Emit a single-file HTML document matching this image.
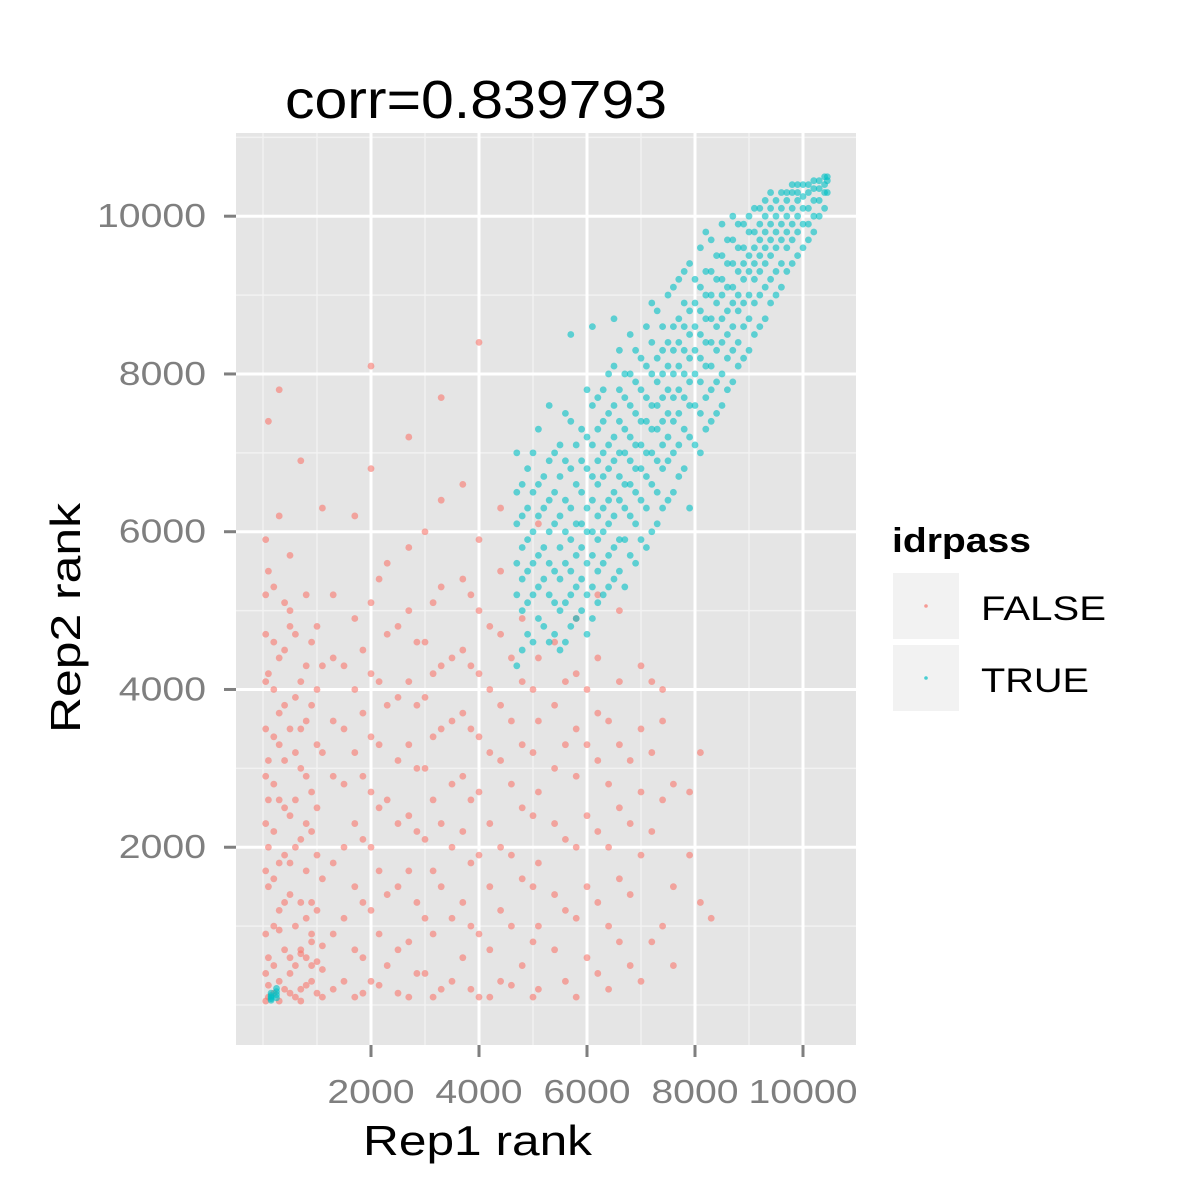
<!DOCTYPE html>
<html><head><meta charset="utf-8"><style>
html,body{margin:0;padding:0;background:#fff;}
svg{display:block;font-family:"Liberation Sans",Arial,sans-serif;}
</style></head><body>
<svg id="chart" width="1200" height="1200" viewBox="0 0 1200 1200">
<rect x="0" y="0" width="1200" height="1200" fill="#fff"/>
<text x="285" y="118" font-size="54" textLength="382" lengthAdjust="spacingAndGlyphs" fill="#000">corr=0.839793</text>
<rect x="236" y="133" width="620" height="912" fill="#e5e5e5"/>
<g id="grid"></g>
<g id="pts"></g>
<g id="axes"></g>
<text x="363" y="1155" font-size="42" textLength="229" lengthAdjust="spacingAndGlyphs">Rep1 rank</text>
<text transform="translate(80,733) rotate(-90)" font-size="42" textLength="230" lengthAdjust="spacingAndGlyphs">Rep2 rank</text>
<g>
<text x="892" y="552" font-size="34" font-weight="bold" textLength="139" lengthAdjust="spacingAndGlyphs">idrpass</text>
<g>
<rect x="893" y="573" width="66" height="66" fill="#f2f2f2"/>
<circle cx="926" cy="606" r="1.8" fill="#F8766D" opacity="0.7"/>
<text x="981" y="620" font-size="34" textLength="125" lengthAdjust="spacingAndGlyphs">FALSE</text></g>
<g>
<rect x="893" y="645" width="66" height="66" fill="#f2f2f2"/>
<circle cx="926" cy="678" r="1.8" fill="#00BFC4" opacity="0.7"/>
<text x="981" y="692" font-size="34" textLength="108" lengthAdjust="spacingAndGlyphs">TRUE</text></g>
</g>
</svg>
<script>
const xTicks=[2000,4000,6000,8000,10000];
const yTicks=[2000,4000,6000,8000,10000];
const xMinor=[0,1000,3000,5000,7000,9000,11000];
const yMinor=[0,1000,3000,5000,7000,9000,11000];
const falseColX=[100,300,500,700,900,1100,1300,1700,2000,2300,2700,3000,3300,3700,4000,4400,4800,5100,5400,5800,6200,6600,7000,7400,7900,8300,
50,200,400,600,800,1000,1500,1850,2150,2500,2850,3150,3500,3850,4200,4600,5000,5600,6000,6400,6800,7200,7600,8100];
const falseColY=[
[100,600,1500,2000,3100,4200,5500,7400,250,2600],
[300,50,1200,2600,3300,3700,6200,7800,950,1800,4400],
[400,150,1400,2400,5000,5700,600,3500,1800,4800],
[200,650,700,2100,3000,3500,4100,6900,1300,50],
[500,300,800,1300,2700,3800,4600,900,2200],
[100,750,450,6300,1600,3200,4300],
[200,900,1800,2900,3600,4400,5200],
[100,700,1500,2300,3200,4000,4900,6200],
[300,1200,2000,2700,3400,4200,5100,6800,8100],
[500,1400,2600,3800,4700,5600],
[100,800,1700,2400,3300,4100,5000,5800,7200],
[400,1100,2100,3000,3900,4600,6000],
[200,1500,2300,3500,4300,5300,6400,7700],
[600,1300,2200,2900,3700,4500,5400,6600],
[100,900,1900,2700,3400,4200,5000,5900,8400],
[300,1200,2000,3100,3800,4700,5500,6300],
[500,1600,2500,3300,4100,4900],
[200,1000,1800,2700,3600,4400,6100],
[700,1400,2300,3000,3800,4600],
[100,1100,2000,2900,3500,4200,4900],
[400,1300,2200,3100,3700,4400,5200],
[800,1600,2500,3300,4100,5000],
[300,1900,2700,3500,4300],
[1000,2600,3600,4000],
[1900,2700],
[1100],
[50,400,900,1700,2300,2900,3500,4100,4700,5200,5900],
[150,500,1000,1600,2200,2800,3400,4000,4600,5300],
[200,700,1300,1900,2500,3100,3800,4500,5100],
[100,500,1000,2000,2600,3200,3900,4700],
[250,600,1100,1700,2300,2900,3600,4300,5200],
[150,550,1200,1900,2500,3300,4000,4800],
[300,1100,2000,2800,3500,4300],
[150,600,1300,2100,2900,3700,4500],
[250,900,1700,2500,3300,4100,5400],
[150,700,1500,2300,3100,3900,4800],
[400,1300,2200,3000,3800,4600],
[100,900,1700,2600,3400,4200,5100],
[300,1100,2000,2800,3600,4400],
[200,1000,1800,2600,3500,4300,5200],
[100,700,1500,2300,3200,4000,4800],
[250,1000,1900,2800,3600,4400],
[100,800,1500,2400,3200,4000],
[300,1200,2100,3300,4100],
[600,1500,2400,3300,4000],
[200,1000,2000,2800,3600],
[500,1400,2300,3100],
[800,2200,3200,4100],
[500,1500,2800],
[1300,3200]];
const trueColX=[150,4700,4900,5100,5300,5500,5700,5900,6100,6300,6500,6700,6900,7100,7300,7500,7700,7900,8100,8300,8500,8700,8900,9100,9300,9500,9700,9900,10100,10300,10450,
250,4800,5000,5200,5400,5600,5800,6000,6200,6400,6600,6800,7000,7200,7400,7600,7800,8000,8200,8400,8600,8800,9000,9200,9400,9600,9800,10000,10200,10400];
const trueColY=[
[80,120,100,150,60],
[4300,5200,5600,6100,6500,7000],
[4700,5100,5500,5900,6300,6800],
[4900,5300,5700,6200,6600,7300],
[4600,5200,5600,6000,6400,6900,7600],
[4500,5000,5400,5800,6200,6700,7100],
[4800,5200,5500,5900,6300,6800,7400,8500],
[5000,5400,5800,6100,6500,6900,7300],
[4900,5300,5700,6000,6400,6700,7100,7600,8600],
[5200,5600,6000,6300,6700,7000,7400,7800],
[5400,5800,6200,6500,6900,7200,7600,8100,8700],
[5300,5900,6300,6600,7000,7300,7700,8000],
[5600,6100,6500,6800,7100,7500,7900,8300],
[5800,6300,6700,7000,7400,7700,8100,8600],
[6100,6500,6900,7300,7600,7900,8200,8800],
[6400,6900,7200,7500,7800,8100,8400,9000],
[6700,7100,7500,7800,8100,8400,8700,9200],
[6300,7200,7600,7900,8200,8500,8800,9400],
[7000,7500,7900,8200,8500,8800,9100,9600],
[7400,7800,8100,8400,8700,9000,9300,9700],
[7600,8000,8400,8700,9000,9200,9500,9900],
[7900,8300,8600,8900,9100,9400,9700,10000],
[8200,8600,8900,9200,9400,9600,9900],
[8500,8900,9200,9400,9600,9800,10100],
[8700,9100,9400,9600,9800,10000,10200],
[9000,9300,9600,9800,10000,10200],
[9300,9600,9800,10000,10200,10300],
[9500,9800,10000,10200,10300,10400],
[9700,9900,10100,10300,10400],
[10000,10200,10350,10450],
[10300,10450,10500],
[90,170,130,210],
[4500,5000,5400,5800,6200,6600],
[4600,5200,5600,6000,6500,7000],
[4800,5400,5800,6300,6700],
[4700,5100,5500,6100,6500,7000],
[4600,5100,5600,6000,6400,6900,7500],
[4900,5300,5700,6100,6600,7100],
[4700,5200,5600,6000,6300,6800,7200,7800],
[5100,5500,5900,6200,6600,6900,7300,7700],
[5300,5700,6100,6400,6800,7100,7500,8000],
[5500,5900,6400,6700,7000,7400,7800,8300],
[5700,6200,6600,6900,7200,7600,8000,8500],
[5900,6400,6800,7100,7400,7800,8200],
[6000,6600,7000,7300,7600,8000,8400,8900],
[6300,6800,7100,7400,7700,8000,8300,8600],
[6500,7000,7400,7700,8000,8300,8600,9100],
[6800,7300,7700,8000,8300,8600,8900,9300],
[7100,7600,8000,8300,8600,8900,9200],
[7300,7700,8100,8400,8700,9000,9300,9800],
[7500,7900,8300,8600,8900,9200,9500],
[7800,8200,8500,8800,9100,9400,9700],
[8100,8400,8800,9000,9300,9600,9900],
[8300,8700,9000,9300,9500,9800,10000],
[8600,9000,9300,9500,9700,9900,10100],
[8900,9200,9500,9700,9900,10100,10300],
[9100,9400,9700,9900,10100,10300],
[9400,9700,9900,10100,10300,10400],
[9600,9900,10100,10250,10400],
[9800,10000,10200,10350,10450],
[10100,10300,10400,10500]];
const NS='http://www.w3.org/2000/svg';
const L=236,R=856,T=133,B=1045;
function sx(v){return 263+v*0.054;}
function sy(v){return 1005-v*0.07888;}
function mk(tag,attrs,parent){const e=document.createElementNS(NS,tag);for(const k in attrs)e.setAttribute(k,attrs[k]);parent.appendChild(e);return e;}
const grid=document.getElementById('grid'),axes=document.getElementById('axes'),pts=document.getElementById('pts');
xMinor.forEach(v=>{const x=sx(v);if(x<L||x>R)return;const e=mk('line',{x1:x,x2:x,y1:T,y2:B,stroke:'#f2f2f2','stroke-width':1.5},grid);

});
yMinor.forEach(v=>{const y=sy(v);if(y<T||y>B)return;const e=mk('line',{x1:L,x2:R,y1:y,y2:y,stroke:'#f2f2f2','stroke-width':1.5},grid);

});
xTicks.forEach(v=>{const x=sx(v);const e=mk('line',{x1:x,x2:x,y1:T,y2:B,stroke:'#fff','stroke-width':3},grid);


const t=mk('line',{x1:x,x2:x,y1:B,y2:B+12,stroke:'#7f7f7f','stroke-width':3},axes);


const w=String(v).length*21.8;
const l=mk('text',{x:x-w/2,y:1103,'font-size':33,textLength:w,lengthAdjust:'spacingAndGlyphs',fill:'#7f7f7f'},axes);l.textContent=v;

});
yTicks.forEach(v=>{const y=sy(v);const e=mk('line',{x1:L,x2:R,y1:y,y2:y,stroke:'#fff','stroke-width':3},grid);


const t=mk('line',{x1:L-12,x2:L,y1:y,y2:y,stroke:'#7f7f7f','stroke-width':3},axes);


const w=String(v).length*21.8;
const l=mk('text',{x:L-30-w,y:y+11,'font-size':33,textLength:w,lengthAdjust:'spacingAndGlyphs',fill:'#7f7f7f'},axes);l.textContent=v;

});
function draw(cx,cy,color,name){cx.forEach((x,i)=>{cy[i].forEach(y=>{const c=mk('circle',{cx:sx(x),cy:sy(y),r:3.4,fill:color,opacity:0.6},pts);

});});}
draw(falseColX,falseColY,'#F8766D','point-false');
draw(trueColX,trueColY,'#00BFC4','point-true');
</script>
</body></html>
